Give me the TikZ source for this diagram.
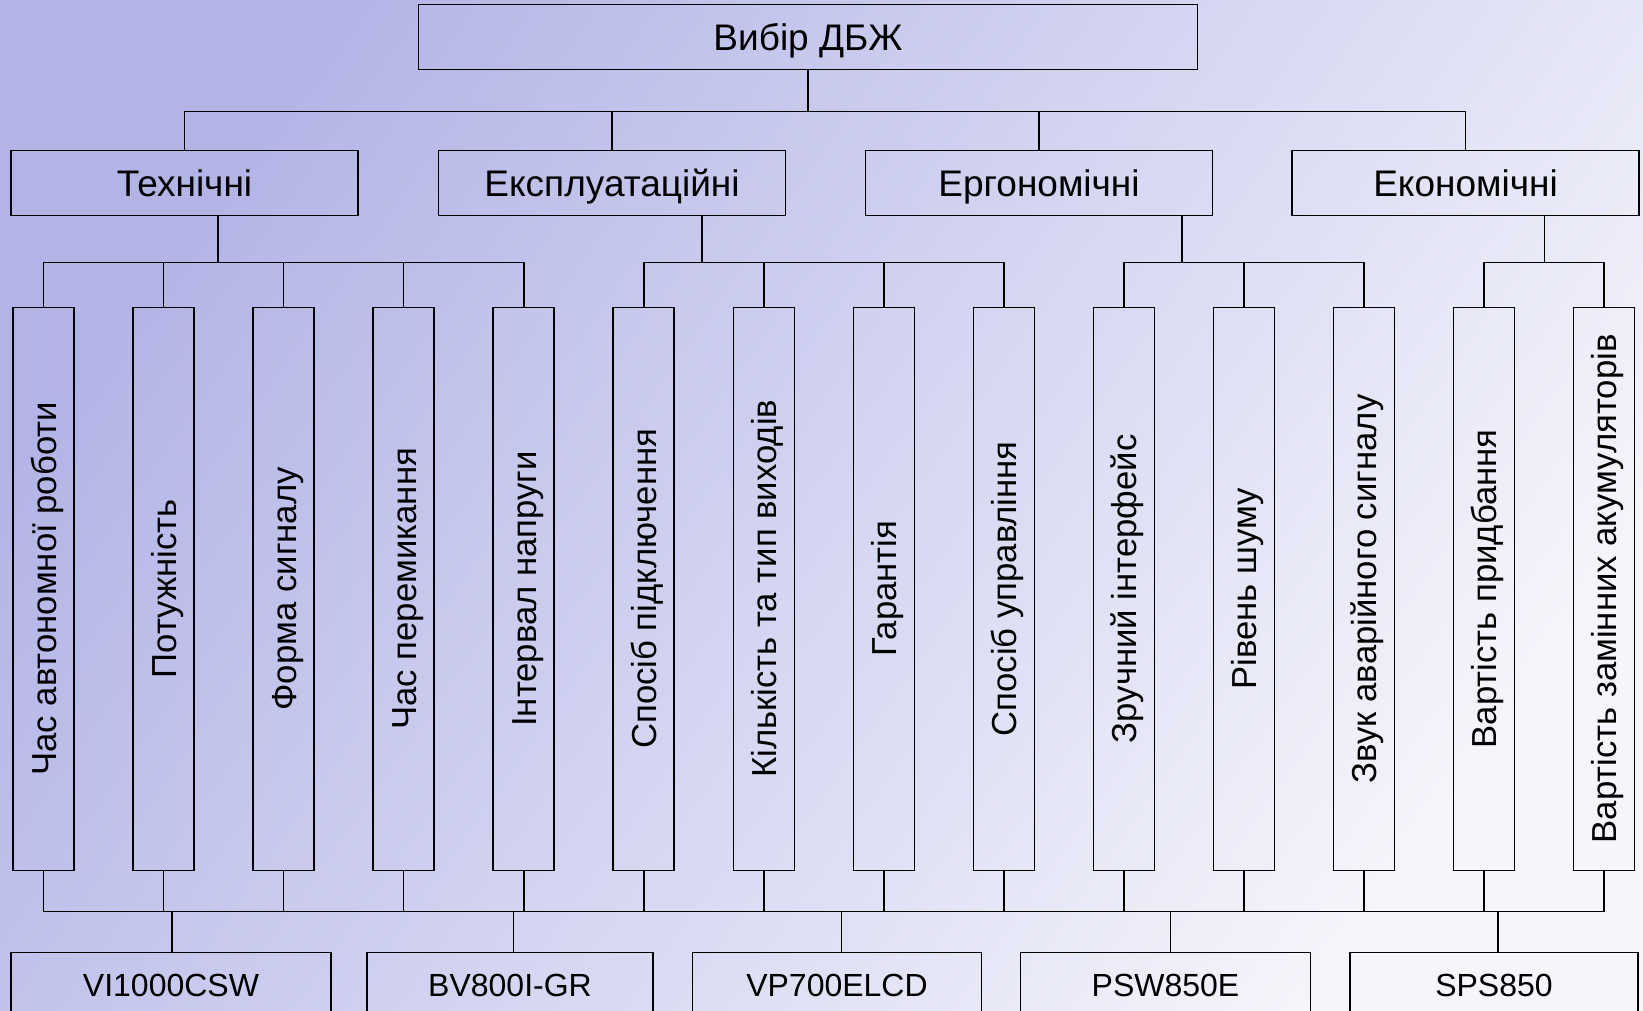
\documentclass[tikz,border=0pt]{standalone}
\usepackage{fontspec}
\setmainfont{Liberation Sans}
\definecolor{bgtop}{RGB}{178,180,230}
\definecolor{bgbot}{RGB}{245,245,251}
\newcommand{\vtext}[1]{\rotatebox{90}{\raisebox{0pt}[25pt][0pt]{#1}}}

\begin{document}
\begin{tikzpicture}
      [x=1pt,y=-1pt
      ,box/.style={draw,line width=1.6pt,minimum height=65pt,inner sep=0pt,text height=26pt,text depth=0pt,font=\fontsize{37}{44}\selectfont}
      ,mbox/.style={box,text height=23pt,font=\fontsize{32}{38}\selectfont}
      ,vbox/.style={draw,line width=1.6pt,minimum width=61pt,minimum height=563pt,inner sep=0pt,font=\fontsize{34.7}{40}\selectfont}
      ,lin/.style={line width=1.6pt}
      ]
        \useasboundingbox (0,0) rectangle (1643,1010);
        \clip (0,0) rectangle (1643,1010);
        \shade[top color=bgtop,bottom color=bgbot,shading angle=55] (0,0) rectangle (1643,1010);

        \node[box,minimum width=779pt] (root) at (808,37) {Вибір ДБЖ};
        \node[box,minimum width=347pt] (tech) at (184.5,183) {Технічні};
        \node[box,minimum width=347pt] (expl) at (612,183) {Експлуатаційні};
        \node[box,minimum width=347pt] (ergo) at (1039,183) {Ергономічні};
        \node[box,minimum width=347pt] (econ) at (1465.5,183) {Економічні};
        \foreach \c in {tech,expl,ergo,econ}
          \draw[lin] (root.south) -- ++(0,41) -| (\c.north);

        \foreach \t [count=\i from 0] in {Час автономної роботи,Потужність,Форма сигналу,
            Час перемикання,Інтервал напруги,Спосіб підключення,Кількість та тип виходів,
            Гарантія,Спосіб управління,Зручний інтерфейс,Рівень шуму,
            Звук аварійного сигналу,Вартість придбання,Вартість замінних акумуляторів}
          \node[vbox] (c\i) at (43.5+120.05*\i,588.8) {\vtext{\t}};
        \foreach \c/\dx/\a/\b in {tech/33.5/0/4,expl/90/5/8,ergo/143/9/11,econ/79/12/13}
          \foreach \i in {\a,...,\b}
            \draw[lin] ([xshift=\dx pt]\c.south) -- ++(0,46) -| (c\i.north);

        \node[mbox,minimum width=320pt] (m1) at (171,985) {VI1000CSW};
        \node[mbox,minimum width=286pt] (m2) at (510,985) {BV800I-GR};
        \node[mbox,minimum width=289pt] (m3) at (837,985) {VP700ELCD};
        \node[mbox,minimum width=290pt] (m4) at (1165.5,985) {PSW850E};
        \node[mbox,minimum width=288pt] (m5) at (1494,985) {SPS850};
        \foreach \i in {0,...,13}
          \foreach \m/\dx in {m1/1,m2/3.6,m3/4.5,m4/5,m5/3.7}
            \draw[lin] (c\i.south) -- ++(0,40.5) -| ([xshift=\dx pt]\m.north);
\end{tikzpicture}
\end{document}
